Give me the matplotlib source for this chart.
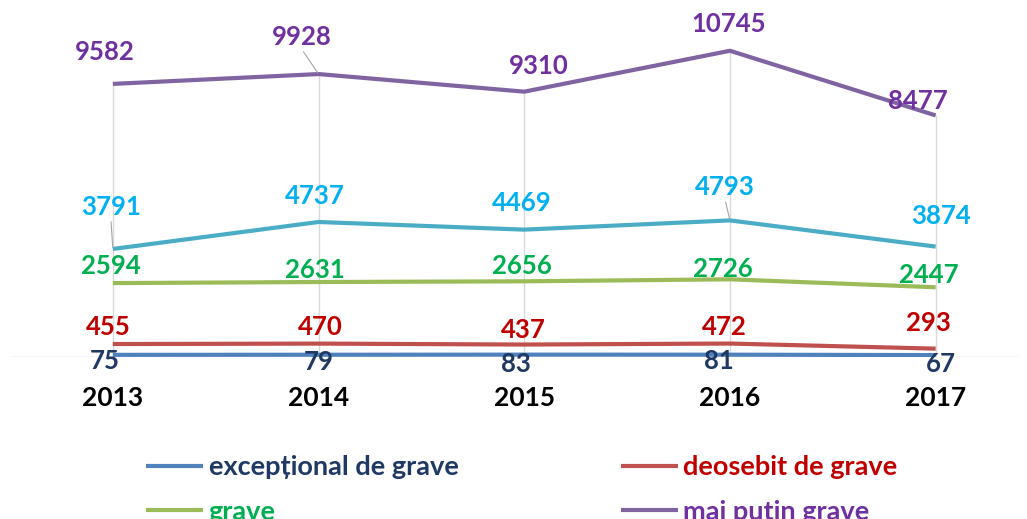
import matplotlib.pyplot as plt

plt.rcParams['font.family'] = ['Lato', 'DejaVu Sans']
plt.rcParams['font.weight'] = 'bold'

years = ['2013', '2014', '2015', '2016', '2017']
exceptional = [75, 79, 83, 81, 67]
deosebit = [455, 470, 437, 472, 293]
grave = [2594, 2631, 2656, 2726, 2447]
mediu = [3791, 4737, 4469, 4793, 3874]
mai_putin = [9582, 9928, 9310, 10745, 8477]

# (values, line colour, label colour, legend name, label offsets in px)
series = [
    (mai_putin, '#8064A2', '#7030A0', 'mai putin grave',
     [(-8, 32), (-17, 37), (14, 26), (-1, 27), (-18, 14)]),
    (mediu, '#4BACC6', '#00B0F0', None,
     [(-2, 42), (-4, 26), (-2, 27), (-5, 33), (5, 31)]),
    (grave, '#9BBB59', '#00B050', 'grave',
     [(-2, 17), (-4, 12), (-2, 15), (-7, 10), (-7, 12)]),
    (deosebit, '#C0504D', '#C00000', 'deosebit de grave',
     [(-4, 17), (2, 17), (-1, 15), (-6, 17), (-7, 26)]),
    (exceptional, '#4F81BD', '#1F3864', 'excepțional de grave',
     [(-8, -6), (0, -7), (-8, -9), (-11, -6), (5, -9)]),
]
leaders = {(0, 1), (1, 0), (1, 3)}

fig = plt.figure(figsize=(10.27, 5.19), dpi=100)
ax = fig.add_axes([10 / 1027, 1 - 357 / 519, 1010 / 1027, 342 / 519])
x = list(range(len(years)))

# drop lines from the top series to the axis
ax.vlines(x, 0, mai_putin, color='#d9d9d9', lw=1, zorder=1)
ax.axhline(0, color='#d9d9d9', lw=1, zorder=1)

handles = {}
for si, (vals, lc, tc, name, offs) in enumerate(series):
    ln, = ax.plot(x, vals, color=lc, lw=3, solid_capstyle='butt', zorder=3)
    if name:
        handles[name] = (ln, tc)
    for i, v in enumerate(vals):
        dx, dy = offs[i]
        kw = {}
        if (si, i) in leaders:
            kw['arrowprops'] = dict(arrowstyle='-', color='#a6a6a6', lw=0.8,
                                    shrinkA=0, shrinkB=1, relpos=(0.5, 0))
        ax.annotate(str(v), (i, v), xytext=(dx, dy), textcoords='offset pixels',
                    ha='center', va='center', fontsize=18.5, color=tc,
                    fontweight='bold', zorder=4, **kw)

ax.set_xlim(-0.5, 4.41)
ax.set_ylim(0, 12000)
ax.set_xticks(x)
ax.set_xticklabels(years, fontsize=19, fontweight='bold', color='black')
ax.tick_params(axis='x', length=0, pad=21)
ax.set_yticks([])
for s in ax.spines.values():
    s.set_visible(False)

order = ['excepțional de grave', 'grave', 'deosebit de grave', 'mai putin grave']
leg = fig.legend([handles[n][0] for n in order], order, ncol=2,
                 loc='upper left', bbox_to_anchor=(122 / 1027, 1 - 431 / 519),
                 frameon=False, fontsize=19.5, handlelength=2.1,
                 handletextpad=0.2, columnspacing=6.0, labelspacing=0.75)
for txt, n in zip(leg.get_texts(), order):
    txt.set_color(handles[n][1])

fig.savefig('out.png', dpi=100)
